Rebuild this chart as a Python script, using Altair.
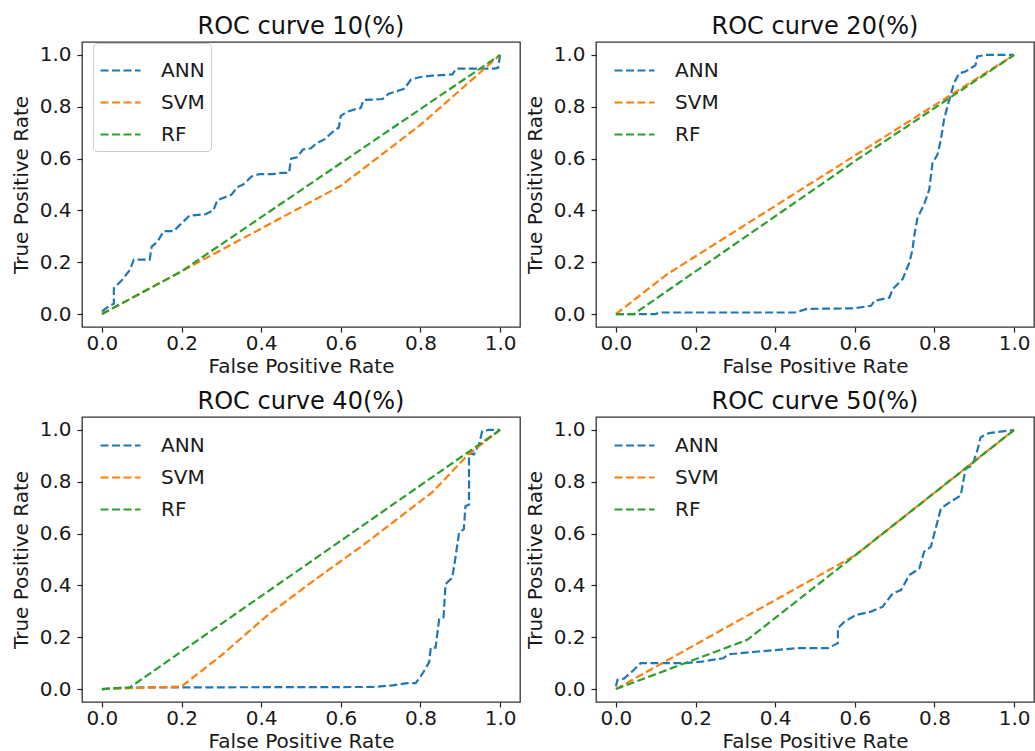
import altair as alt
import pandas as pd

MODELS = ["ANN", "SVM", "RF"]
COLORS = ["#1f77b4", "#ff7f0e", "#2ca02c"]
TICKS = [0.0, 0.2, 0.4, 0.6, 0.8, 1.0]
TITLES = ["ROC curve 10(%)", "ROC curve 20(%)", "ROC curve 40(%)", "ROC curve 50(%)"]

# ---- 10 % ----
p10_ann_fpr = [0, 0.017, 0.03, 0.03, 0.05, 0.06, 0.07, 0.08, 0.12, 0.125, 0.14, 0.155, 0.18, 0.20, 0.22, 0.26,
               0.28, 0.29, 0.325, 0.34, 0.355, 0.375, 0.395, 0.43, 0.45, 0.47, 0.475, 0.49, 0.505, 0.525, 0.54,
               0.56, 0.57, 0.585, 0.595, 0.60, 0.615, 0.635, 0.65, 0.657, 0.705, 0.72, 0.75, 0.76, 0.776, 0.80,
               0.83, 0.88, 0.89, 0.985, 0.995, 1.0]
p10_ann_tpr = [0.01, 0.03, 0.04, 0.10, 0.13, 0.15, 0.17, 0.21, 0.21, 0.26, 0.28, 0.32, 0.32, 0.35, 0.38, 0.385,
               0.40, 0.44, 0.46, 0.49, 0.50, 0.53, 0.54, 0.54, 0.545, 0.545, 0.60, 0.605, 0.635, 0.64, 0.66,
               0.675, 0.69, 0.71, 0.72, 0.765, 0.78, 0.79, 0.795, 0.826, 0.83, 0.85, 0.865, 0.87, 0.905, 0.915,
               0.92, 0.925, 0.947, 0.947, 0.95, 1.0]
p10_svm_fpr = [0, 0.2, 0.6, 0.8, 1.0]
p10_svm_tpr = [0, 0.165, 0.495, 0.73, 1.0]
p10_rf_fpr = [0, 0.2, 1.0]
p10_rf_tpr = [0, 0.165, 1.0]

# ---- 20 % ----
p20_ann_fpr = [0, 0.046, 0.10, 0.11, 0.45, 0.48, 0.596, 0.641, 0.649, 0.687, 0.695, 0.72, 0.737, 0.745, 0.749,
               0.7575, 0.774, 0.787, 0.795, 0.8075, 0.816, 0.824, 0.8325, 0.841, 0.849, 0.862, 0.878, 0.903,
               0.9075, 0.928, 1.0]
p20_ann_tpr = [0, 0, 0, 0.006, 0.006, 0.02, 0.022, 0.032, 0.051, 0.064, 0.096, 0.135, 0.199, 0.25, 0.30,
               0.372, 0.423, 0.481, 0.583, 0.615, 0.673, 0.75, 0.801, 0.846, 0.891, 0.929, 0.936, 0.96,
               0.994, 1.0, 1.0]
p20_svm_fpr = [0, 0.13, 1.0]
p20_svm_tpr = [0, 0.155, 1.0]
p20_rf_fpr = [0, 0.045, 0.6, 1.0]
p20_rf_tpr = [0, 0, 0.59, 1.0]

# ---- 40 % ----
p40_ann_fpr = [0, 0.07, 0.68, 0.73, 0.7675, 0.788, 0.805, 0.822, 0.826, 0.838, 0.847, 0.858, 0.863, 0.88, 0.888,
               0.897, 0.909, 0.913, 0.922, 0.922, 0.934, 0.947, 0.955, 0.972, 1.0]
p40_ann_tpr = [0, 0.006, 0.008, 0.014, 0.023, 0.023, 0.059, 0.104, 0.16, 0.16, 0.27, 0.277, 0.405, 0.43, 0.508,
               0.604, 0.617, 0.706, 0.712, 0.91, 0.905, 0.943, 0.995, 1.0, 1.0]
p40_svm_fpr = [0, 0.07, 0.2, 0.3, 0.42, 0.52, 0.66, 0.83, 0.92, 1.0]
p40_svm_tpr = [0, 0.003, 0.01, 0.13, 0.29, 0.405, 0.56, 0.76, 0.905, 1.0]
p40_rf_fpr = [0, 0.07, 1.0]
p40_rf_tpr = [0, 0.006, 1.0]

# ---- 50 % ----
p50_ann_fpr = [0, 0.004, 0.02, 0.041, 0.062, 0.174, 0.216, 0.27, 0.2825, 0.3575, 0.4575, 0.5325, 0.5575, 0.5575,
               0.574, 0.603, 0.641, 0.67, 0.695, 0.716, 0.737, 0.762, 0.774, 0.791, 0.816, 0.8325, 0.866, 0.878,
               0.895, 0.9075, 0.916, 0.937, 1.0]
p50_ann_tpr = [0.01, 0.036, 0.04, 0.068, 0.10, 0.10, 0.106, 0.119, 0.134, 0.145, 0.158, 0.158, 0.177, 0.235,
               0.26, 0.286, 0.299, 0.318, 0.369, 0.382, 0.44, 0.465, 0.53, 0.549, 0.696, 0.715, 0.747, 0.85,
               0.863, 0.92, 0.972, 0.988, 1.0]
p50_svm_fpr = [0, 0.6, 1.0]
p50_svm_tpr = [0, 0.515, 1.0]
p50_rf_fpr = [0, 0.33, 0.6, 1.0]
p50_rf_tpr = [0, 0.19, 0.515, 1.0]

PANELS = [
    {"ANN": (p10_ann_fpr, p10_ann_tpr), "SVM": (p10_svm_fpr, p10_svm_tpr), "RF": (p10_rf_fpr, p10_rf_tpr)},
    {"ANN": (p20_ann_fpr, p20_ann_tpr), "SVM": (p20_svm_fpr, p20_svm_tpr), "RF": (p20_rf_fpr, p20_rf_tpr)},
    {"ANN": (p40_ann_fpr, p40_ann_tpr), "SVM": (p40_svm_fpr, p40_svm_tpr), "RF": (p40_rf_fpr, p40_rf_tpr)},
    {"ANN": (p50_ann_fpr, p50_ann_tpr), "SVM": (p50_svm_fpr, p50_svm_tpr), "RF": (p50_rf_fpr, p50_rf_tpr)},
]

FONT = "DejaVu Sans"
DASH = [8, 3.5]
W, H = 438, 285
TEXT = "#1a1a1a"


def panel_df(series):
    rows = []
    for m_i, model in enumerate(MODELS):
        fpr, tpr = series[model]
        for i, (x, y) in enumerate(zip(fpr, tpr)):
            rows.append({"model": model, "fpr": x, "tpr": y, "idx": m_i * 1000 + i})
    return pd.DataFrame(rows)


def axis(title, label_pad, title_pad):
    return alt.Axis(title=title, values=TICKS, format=".1f", grid=False, domain=False,
                    tickSize=5, tickWidth=1.2, tickColor="#222", labelFontSize=20, labelColor=TEXT,
                    labelFont=FONT, labelFlush=False, labelPadding=label_pad,
                    titleFontSize=20, titleFont=FONT, titleFontWeight="normal", titleColor=TEXT,
                    titlePadding=title_pad)


def panel(k):
    df = panel_df(PANELS[k])
    leg_kw = dict(title=None, orient="none", legendX=11, legendY=1, symbolType="stroke", symbolSize=1600,
                  symbolStrokeWidth=2.2, symbolDash=DASH, labelFontSize=20, labelFont=FONT,
                  labelColor=TEXT, labelOffset=19, rowPadding=-7, padding=6)
    if k == 0:
        leg_kw.update(strokeColor="#cccccc", fillColor="white", cornerRadius=4)
    scale = alt.Scale(domain=[-0.05, 1.05], nice=False, zero=False)
    return alt.Chart(df).mark_line(strokeDash=DASH, strokeWidth=2.2).encode(
        x=alt.X("fpr:Q", scale=scale, axis=axis("False Positive Rate", 1, 3)),
        y=alt.Y("tpr:Q", scale=scale, axis=axis("True Positive Rate", 6, 8)),
        color=alt.Color("model:N", scale=alt.Scale(domain=MODELS, range=COLORS),
                        legend=alt.Legend(**leg_kw)),
        detail="model:N",
        order=alt.Order("idx:Q"),
    ).properties(
        width=W, height=H,
        title=alt.TitleParams(TITLES[k], fontSize=24, font=FONT, fontWeight="normal", color="#111", offset=3),
    )


top = alt.hconcat(panel(0), panel(1), spacing=3).resolve_scale(color="independent").resolve_legend(color="independent")
bottom = alt.hconcat(panel(2), panel(3), spacing=3).resolve_scale(color="independent").resolve_legend(color="independent")
chart = alt.vconcat(top, bottom, spacing=12).resolve_scale(color="independent").resolve_legend(
    color="independent"
).properties(
    padding={"left": 10, "top": 14, "right": 0, "bottom": 0},
).configure_view(stroke="#333333", strokeWidth=1.3)

chart.save("out.html", embed_options={"renderer": "svg", "actions": False})
